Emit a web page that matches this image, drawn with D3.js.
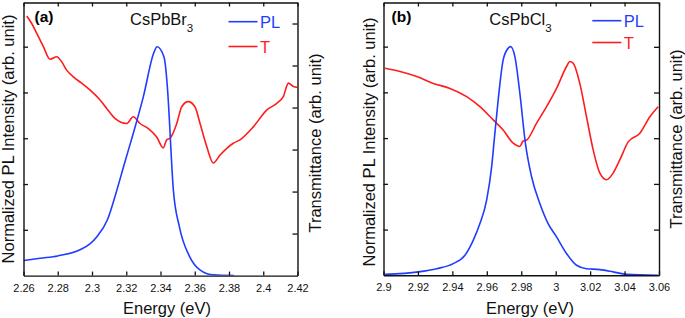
<!DOCTYPE html>
<html>
<head>
<meta charset="utf-8">
<script src="https://cdn.jsdelivr.net/npm/d3@7"></script>
<style>
  body { margin: 0; background: #fff; }
  text { font-family: "Liberation Sans", Arial, sans-serif; }
</style>
</head>
<body>
<div id="chart"></div>
<script>
// ---- panel (a) CsPbBr3 ----
const energyPL_a = [2.260, 2.2697, 2.280, 2.293, 2.2988, 2.303, 2.309, 2.314, 2.319, 2.323, 2.330, 2.336, 2.338,
                    2.342, 2.344, 2.3456, 2.346, 2.3475, 2.351, 2.357, 2.363, 2.371, 2.383];
const pl_a = [0.066, 0.076, 0.086, 0.113, 0.139, 0.171, 0.244, 0.36, 0.491, 0.593, 0.782, 0.971, 1.0,
              0.956, 0.825, 0.622, 0.563, 0.375, 0.214, 0.083, 0.025, 0.003, 0];
const energyT_a = [2.2619, 2.2648, 2.2677, 2.2716, 2.2755, 2.2794, 2.2823, 2.2852, 2.2891, 2.294, 2.2988,
                   2.3047, 2.3086, 2.3134, 2.3203, 2.3241, 2.328, 2.3329, 2.3378, 2.3416, 2.3436, 2.3456,
                   2.3495, 2.3524, 2.3562, 2.3601, 2.3631, 2.367, 2.3708, 2.3748, 2.3787, 2.3825, 2.3864,
                   2.3942, 2.402, 2.4079, 2.4117, 2.4147, 2.4176, 2.42];
const t_a = [6.18, 6.0, 5.77, 5.45, 5.15, 5.21, 5.09, 4.89, 4.73, 4.58, 4.42,
             4.18, 3.98, 3.74, 3.62, 3.78, 3.62, 3.5, 3.3, 3.04, 3.23, 3.27,
             3.62, 4.02, 4.14, 4.02, 3.62, 3.07, 2.68, 2.87, 3.03, 3.15, 3.23,
             3.54, 3.94, 4.1, 4.26, 4.58, 4.5, 4.48];
const xTicks_a = [2.26, 2.28, 2.30, 2.32, 2.34, 2.36, 2.38, 2.40, 2.42];
const xLabels_a = ["2.26", "2.28", "2.3", "2.32", "2.34", "2.36", "2.38", "2.4", "2.42"];
const tTicks_a = [1, 2, 3, 4, 5, 6];

// ---- panel (b) CsPbCl3 ----
const energyPL_b = [2.9009, 2.9202, 2.9309, 2.9405, 2.9473, 2.9521, 2.956, 2.9599, 2.9628, 2.9643, 2.9666,
                    2.9695, 2.9724, 2.9738, 2.9763, 2.9792, 2.9824, 2.986, 2.9908, 2.9956, 3.0005, 3.0063,
                    3.0121, 3.0179, 3.0256, 3.0334, 3.0411, 3.0595];
const pl_b = [0.004, 0.015, 0.029, 0.051, 0.088, 0.153, 0.226, 0.329, 0.474, 0.591, 0.767,
              0.942, 0.993, 1.0, 0.956, 0.796, 0.578, 0.431, 0.314, 0.226, 0.168, 0.095,
              0.044, 0.029, 0.025, 0.015, 0.004, 0];
const energyT_b = [2.9009, 2.9096, 2.9193, 2.9289, 2.9386, 2.9483, 2.956, 2.9637, 2.9695, 2.9753, 2.9792,
                   2.9811, 2.9831, 2.9889, 2.9947, 3.0005, 3.0063, 3.0082, 3.0102, 3.014, 3.0179, 3.0218,
                   3.0256, 3.0295, 3.0334, 3.0373, 3.0421, 3.0489, 3.0547, 3.0595];
const t_b = [4.53, 4.46, 4.35, 4.2, 4.09, 3.91, 3.69, 3.4, 3.18, 2.89, 2.82,
             2.94, 2.96, 3.33, 3.69, 4.09, 4.57, 4.68, 4.64, 4.2, 3.47, 2.74,
             2.24, 2.09, 2.24, 2.53, 2.92, 3.11, 3.47, 3.69];
const xTicks_b = [2.90, 2.92, 2.94, 2.96, 2.98, 3.00, 3.02, 3.04, 3.06];
const xLabels_b = ["2.9", "2.92", "2.94", "2.96", "2.98", "3", "3.02", "3.04", "3.06"];
const tTicks_b = [1, 2, 3, 4, 5];

const plTicks = [0.2, 0.4, 0.6, 0.8, 1.0];

const blue = "#1f3cff";
const red = "#ff1c1c";

const svg = d3.select("#chart").append("svg")
  .attr("width", 685)
  .attr("height", 318);

const panels = [
  { id: "a", tag: "(a)", title: "CsPbBr", xr: [23.5, 297.5], yr: [275.6, 2.5], xd: [2.26, 2.42], td: [0, 6.5],
    ePL: energyPL_a, pl: pl_a, eT: energyT_a, t: t_a, xt: xTicks_a, xl: xLabels_a, tt: tTicks_a,
    tagX: 34.5, titleX: 130, legX: 228.5, legY: [21.7, 46.5], xLabX: 167, leftLabX: 13.5, rightLabX: 321 },
  { id: "b", tag: "(b)", title: "CsPbCl", xr: [383.5, 659], yr: [275.3, 2.5], xd: [2.90, 3.06], td: [0, 5.97],
    ePL: energyPL_b, pl: pl_b, eT: energyT_b, t: t_b, xt: xTicks_b, xl: xLabels_b, tt: tTicks_b,
    tagX: 391.5, titleX: 489.3, legX: 592.3, legY: [20.7, 42.5], xLabX: 530, leftLabX: 374.5, rightLabX: 682 }
];

panels.forEach(p => {
  const x = d3.scaleLinear().domain(p.xd).range(p.xr);
  const yPL = d3.scaleLinear().domain([0, 1.193]).range(p.yr);
  const yT = d3.scaleLinear().domain(p.td).range(p.yr);

  const g = svg.append("g");

  svg.append("clipPath").attr("id", "clip-" + p.id)
    .append("rect")
    .attr("x", p.xr[0]).attr("y", p.yr[1])
    .attr("width", p.xr[1] - p.xr[0]).attr("height", p.yr[0] - p.yr[1]);

  const curves = g.append("g").attr("clip-path", `url(#clip-${p.id})`);

  const plLine = d3.line().curve(d3.curveMonotoneX).x((d, i) => x(p.ePL[i])).y(d => yPL(d));
  const tLine = d3.line().curve(d3.curveMonotoneX).x((d, i) => x(p.eT[i])).y(d => yT(d));

  curves.append("path")
    .attr("d", tLine(p.t))
    .attr("fill", "none")
    .attr("stroke", red)
    .attr("stroke-width", 1.6)
    .attr("stroke-linejoin", "round");

  curves.append("path")
    .attr("d", plLine(p.pl))
    .attr("fill", "none")
    .attr("stroke", blue)
    .attr("stroke-width", 1.6)
    .attr("stroke-linejoin", "round");

  // frame + inward ticks
  const bottom = g.append("g").attr("transform", `translate(0,${p.yr[0]})`)
    .call(d3.axisBottom(x).tickValues(p.xt).tickFormat((d, i) => p.xl[i])
      .tickSizeInner(-4).tickSizeOuter(0).tickPadding(8.2));
  const top = g.append("g").attr("transform", `translate(0,${p.yr[1]})`)
    .call(d3.axisTop(x).tickValues(p.xt).tickFormat("").tickSizeInner(-4).tickSizeOuter(0));
  const left = g.append("g").attr("transform", `translate(${p.xr[0]},0)`)
    .call(d3.axisLeft(yPL).tickValues(plTicks).tickFormat("").tickSizeInner(-4.5).tickSizeOuter(0));
  const right = g.append("g").attr("transform", `translate(${p.xr[1]},0)`)
    .call(d3.axisRight(yT).tickValues(p.tt).tickFormat("").tickSizeInner(-5).tickSizeOuter(0));

  [bottom, top, left, right].forEach(a => {
    a.select(".domain").attr("stroke", "#111").attr("stroke-width", 1.4);
    a.selectAll(".tick line").attr("stroke", "#111").attr("stroke-width", 1.3);
  });
  bottom.selectAll(".tick text")
    .style("font-family", "Liberation Sans, Arial, sans-serif")
    .style("font-size", "11px")
    .attr("fill", "#111");

  // panel tag
  g.append("text")
    .attr("x", p.tagX).attr("y", 22)
    .style("font-size", "15.5px").style("font-weight", "bold")
    .text(p.tag);

  // title with subscript
  const title = g.append("text")
    .attr("x", p.titleX).attr("y", 25)
    .style("font-size", "16.5px")
    .attr("fill", "#111");
  title.append("tspan").text(p.title);
  title.append("tspan").attr("dy", 6.5).style("font-size", "11.5px").text("3");

  // legend
  [["PL", blue], ["T", red]].forEach((it, i) => {
    g.append("line")
      .attr("x1", p.legX).attr("x2", p.legX + 29)
      .attr("y1", p.legY[i]).attr("y2", p.legY[i])
      .attr("stroke", it[1]).attr("stroke-width", 1.6);
    g.append("text")
      .attr("x", p.legX + 31.5).attr("y", p.legY[i] + 6.2)
      .style("font-size", "16.5px")
      .attr("fill", it[1])
      .text(it[0]);
  });

  // axis titles
  g.append("text")
    .attr("x", p.xLabX).attr("y", 314)
    .attr("text-anchor", "middle")
    .style("font-size", "16.5px")
    .attr("fill", "#111")
    .text("Energy (eV)");

  g.append("text")
    .attr("transform", `translate(${p.leftLabX},${p.id === "a" ? 139 : 142}) rotate(-90)`)
    .attr("text-anchor", "middle")
    .style("font-size", "16.5px")
    .attr("fill", "#111")
    .text("Normalized PL Intensity (arb. unit)");

  g.append("text")
    .attr("transform", `translate(${p.rightLabX},${p.id === "a" ? 143 : 139}) rotate(-90)`)
    .attr("text-anchor", "middle")
    .style("font-size", "16.5px")
    .attr("fill", "#111")
    .text("Transmittance (arb. unit)");
});
</script>
</body>
</html>
